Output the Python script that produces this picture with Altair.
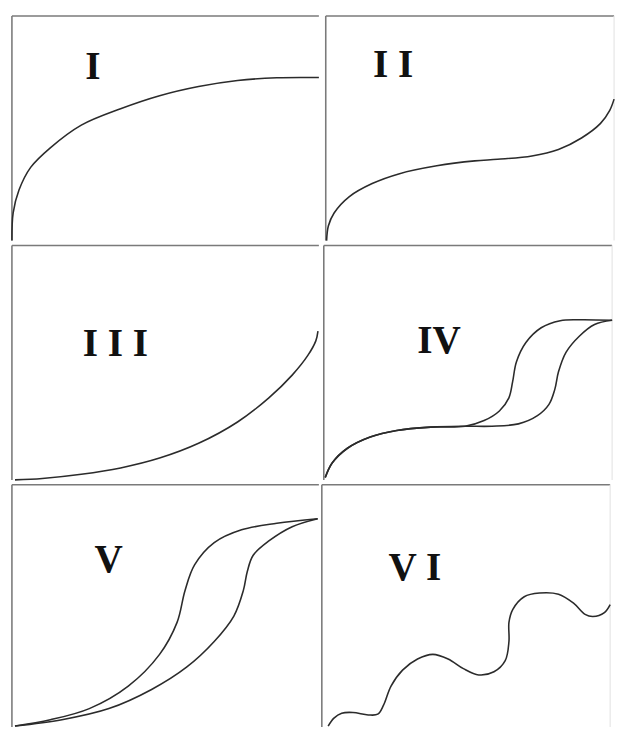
import altair as alt
import pandas as pd

# ---- Panel I (Type I isotherm)
i_x = [0.0, 0.004, 0.023, 0.061, 0.125, 0.226, 0.354, 0.481, 0.608, 0.735, 0.863, 1.0]
i_y = [0.0, 0.123, 0.225, 0.326, 0.413, 0.514, 0.587, 0.645, 0.686, 0.713, 0.725, 0.726]

# ---- Panel II
ii_x = [0.003, 0.009, 0.029, 0.082, 0.161, 0.253, 0.385, 0.517, 0.596, 0.715, 0.807, 0.887, 0.953, 0.985, 1.0]
ii_y = [0.0, 0.065, 0.123, 0.196, 0.254, 0.297, 0.333, 0.355, 0.362, 0.377, 0.406, 0.457, 0.522, 0.580, 0.630]

# ---- Panel III
iii_x = [0.010, 0.099, 0.226, 0.354, 0.481, 0.608, 0.735, 0.837, 0.913, 0.964, 0.990, 0.997]
iii_y = [0.0, 0.006, 0.024, 0.051, 0.093, 0.156, 0.247, 0.350, 0.447, 0.531, 0.593, 0.635]

# ---- Panel IV (hysteresis)
iv_common_x = [0.005, 0.029, 0.082, 0.161, 0.253, 0.371, 0.490]
iv_common_y = [0.010, 0.072, 0.135, 0.183, 0.211, 0.225, 0.229]
iv_ads_x = [0.583, 0.675, 0.741, 0.781, 0.801, 0.814, 0.840, 0.887, 0.939, 1.0]
iv_ads_y = [0.229, 0.239, 0.274, 0.322, 0.385, 0.461, 0.544, 0.614, 0.663, 0.681]
iv_des_x = [0.556, 0.609, 0.642, 0.655, 0.668, 0.701, 0.754, 0.820, 0.887, 1.0]
iv_des_y = [0.253, 0.294, 0.350, 0.419, 0.503, 0.586, 0.649, 0.679, 0.683, 0.681]

# ---- Panel V (hysteresis)
v_ads_x = [0.010, 0.163, 0.316, 0.455, 0.570, 0.659, 0.723, 0.754, 0.767, 0.786, 0.837, 0.913, 0.996]
v_ads_y = [0.004, 0.030, 0.076, 0.155, 0.248, 0.353, 0.458, 0.564, 0.643, 0.709, 0.768, 0.827, 0.860]
v_des_x = [0.010, 0.125, 0.252, 0.379, 0.481, 0.538, 0.564, 0.595, 0.659, 0.748, 0.863, 0.996]
v_des_y = [0.004, 0.030, 0.076, 0.169, 0.300, 0.432, 0.564, 0.669, 0.761, 0.814, 0.841, 0.860]

# ---- Panel VI (stepwise)
vi_x = [0.022, 0.042, 0.069, 0.108, 0.161, 0.194, 0.214, 0.240, 0.280, 0.332, 0.385, 0.438, 0.491,
        0.544, 0.597, 0.636, 0.649, 0.649, 0.662, 0.702, 0.755, 0.821, 0.873, 0.913, 0.940, 0.980, 1.0]
vi_y = [0.004, 0.037, 0.057, 0.060, 0.050, 0.053, 0.090, 0.169, 0.235, 0.281, 0.300, 0.281, 0.241,
        0.215, 0.228, 0.274, 0.353, 0.432, 0.485, 0.538, 0.553, 0.548, 0.511, 0.465, 0.456, 0.472, 0.505]

labels = ["I", "I I", "I I I", "IV", "V", "V I"]

LINE = "#2b2b2b"
GRID = "#7a7a7a"


def curves_df(curves):
    rows = []
    for name, xs, ys in curves:
        for k, (a, b) in enumerate(zip(xs, ys)):
            rows.append({"s": name, "i": k, "x": a, "y": b})
    return pd.DataFrame(rows)


def panel(curves, label, lx, ly, w, h, right_edge=False):
    sx = alt.Scale(domain=[0, 1], nice=False, zero=False)
    sy = alt.Scale(domain=[0, 1], nice=False, zero=False)
    one = pd.DataFrame({"k": [0]})
    lines = alt.Chart(curves_df(curves)).mark_line(
        interpolate="catmull-rom", color=LINE, strokeWidth=1.6
    ).encode(
        x=alt.X("x:Q", scale=sx, axis=None),
        y=alt.Y("y:Q", scale=sy, axis=None),
        detail="s:N",
        order="i:Q",
    )
    top = alt.Chart(one).mark_rule(color=GRID, strokeWidth=1.6).encode(
        y=alt.Y(datum=1, scale=sy, axis=None)
    )
    left = alt.Chart(one).mark_rule(color=GRID, strokeWidth=1.6).encode(
        x=alt.X(datum=0, scale=sx, axis=None)
    )
    text = alt.Chart(one).mark_text(
        text=label, font="Liberation Serif", fontWeight="bold", fontSize=40,
        color="#111111", align="center", baseline="middle"
    ).encode(
        x=alt.X(datum=lx, scale=sx, axis=None),
        y=alt.Y(datum=ly, scale=sy, axis=None),
    )
    layers = [top, left]
    if right_edge:
        layers.append(
            alt.Chart(one).mark_rule(color="#e6e6e6", strokeWidth=1.2).encode(
                x=alt.X(datum=1, scale=sx, axis=None)
            )
        )
    layers += [lines, text]
    return alt.layer(*layers).properties(width=w, height=h)


W1, W2 = 313, 294
H1, H2, H3 = 229, 239, 247

p1 = panel([("a", i_x, i_y)], labels[0], 0.264, 0.77, W1, H1)
p2 = panel([("a", ii_x, ii_y)], labels[1], 0.234, 0.78, W2, H1, right_edge=True)
p3 = panel([("a", iii_x, iii_y)], labels[2], 0.337, 0.58, W1, H2)
p4 = panel([("ads", iv_common_x + iv_ads_x, iv_common_y + iv_ads_y),
            ("des", iv_common_x + iv_des_x, iv_common_y + iv_des_y)],
           labels[3], 0.40, 0.59, W2, H2, right_edge=True)
p5 = panel([("ads", v_ads_x, v_ads_y), ("des", v_des_x, v_des_y)],
           labels[4], 0.315, 0.69, W1, H3)
p6 = panel([("a", vi_x, vi_y)], labels[5], 0.323, 0.655, W2, H3, right_edge=True)

chart = alt.vconcat(
    alt.hconcat(p1, p2, spacing=0),
    alt.hconcat(p3, p4, spacing=0),
    alt.hconcat(p5, p6, spacing=0),
    spacing=0,
).properties(
    padding={"left": 0, "top": 0, "right": 0, "bottom": 0},
    background="white",
).configure_view(stroke=None).configure_concat(spacing=0)

chart.save("out.html", embed_options={"renderer": "svg", "actions": False})
